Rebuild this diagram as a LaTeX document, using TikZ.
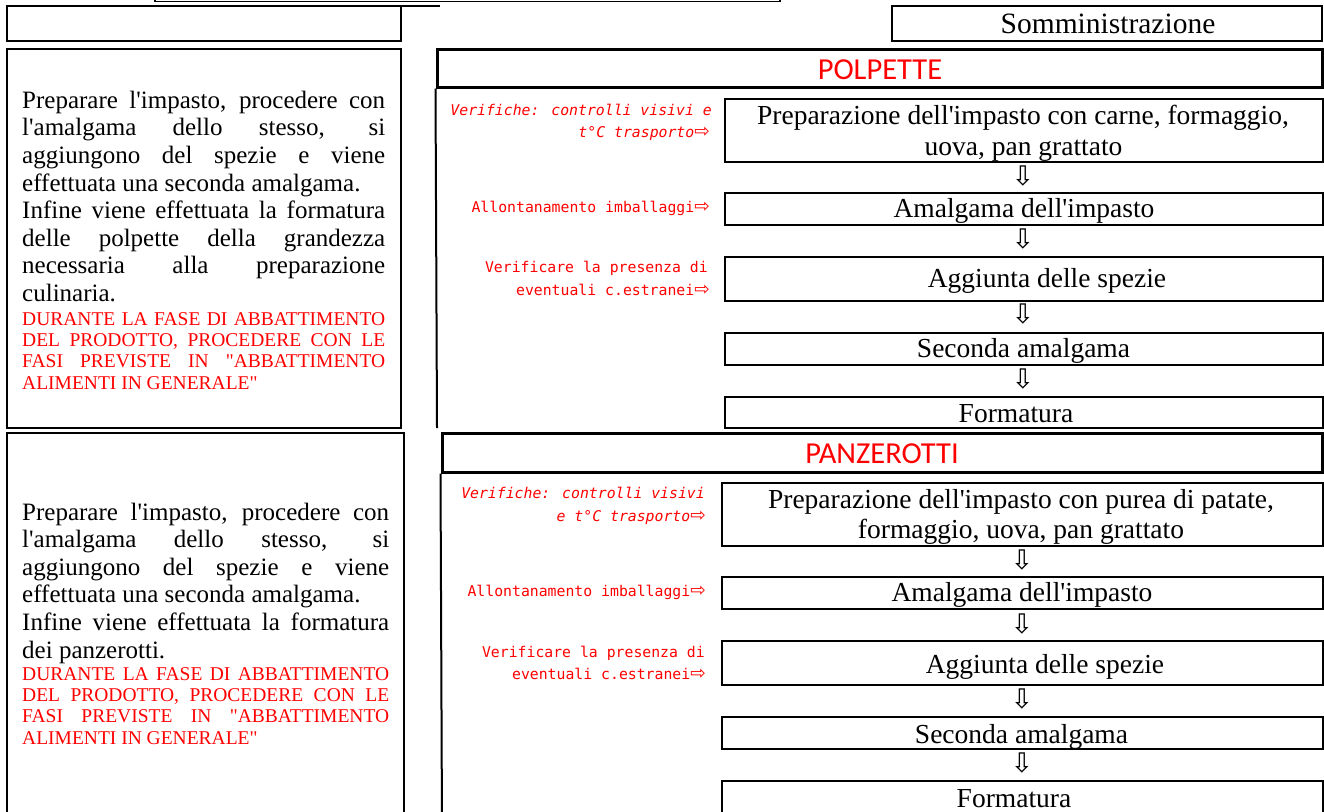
\documentclass[tikz,border=0pt]{standalone}
\usepackage{fontspec}
\usetikzlibrary{fit}
\newfontfamily\serf{Liberation Serif}
\newfontfamily\monof{DejaVu Sans Mono}
\newfontfamily\arrf{DejaVu Sans}
\newfontfamily\titf{Carlito}
\definecolor{rd}{RGB}{255,0,0}
\tikzset{
 frame/.style={draw, line width=2.1pt, inner sep=0pt},
 tframe/.style={draw, line width=3pt, inner sep=0pt},
 steptxt/.style={inner sep=0pt, anchor=base, font=\serf\fontsize{27.5}{31}\selectfont},
 ttl/.style={inner sep=0pt, anchor=base, text=rd, font=\titf\fontsize{30.5}{34}\selectfont},
 note/.style={inner sep=0pt, anchor=base east, text=rd, font=\monof\fontsize{14.8}{17}\selectfont},
 inote/.style={note, font=\monof\itshape\fontsize{14.8}{17}\selectfont},
 darr/.style={inner sep=0pt, font=\arrf\fontsize{27}{30}\selectfont},
 para/.style={inner sep=0pt, anchor=base west},
 redpara/.style={para, text=rd},
}
\newcommand\ra{{\arrf\upshape\fontsize{18.5}{18}\selectfont ⇨}}
\newcommand\blkp[2]{\vtop{\hsize=#1\serf\fontsize{25}{27.6}\selectfont\parindent=0pt\tolerance=10000\hbadness=10000 #2\par}}
\newcommand\redp[2]{\vtop{\hsize=#1\serf\fontsize{19.5}{21.4}\selectfont\parindent=0pt\tolerance=10000\hbadness=10000 #2\par}}

\begin{document}
\begin{tikzpicture}[x=1pt,y=-1pt]
\useasboundingbox (0,0) rectangle (1324,811);

% top remnants
\draw[line width=1.8pt] (155,-10) rectangle (780,1.5);
\node[frame, fit={(7,6)(401,41)}] (boxa) {};
\draw[line width=2.1pt] (401,6) -- (440,6);
\node[frame, fit={(892,6)(1322,41)}] (somm) {};
\node[inner sep=0pt, anchor=base, font=\serf\fontsize{29.5}{33}\selectfont] (sommtxt) at (1108,33) {Somministrazione};

% left description boxes
\node[frame, fit={(7,49)(401,428)}] (boxb) {};
\node[para] (bblk) at (22,108.3) {\blkp{363pt}{Preparare l'impasto, procedere con\linebreak l'amalgama dello stesso, si\linebreak aggiungono del spezie e viene\linebreak effettuata una seconda amalgama.\par Infine viene effettuata la formatura\linebreak delle polpette della grandezza\linebreak necessaria alla preparazione\linebreak culinaria.}};
\node[redpara] (bred) at (22,325) {\redp{363pt}{DURANTE LA FASE DI ABBATTIMENTO\linebreak DEL PRODOTTO, PROCEDERE CON LE\linebreak FASI PREVISTE IN "ABBATTIMENTO\linebreak ALIMENTI IN GENERALE"}};

\node[frame, fit={(7,433)(404,830)}] (boxc) {};
\node[para] (cblk) at (22,520) {\blkp{367pt}{Preparare l'impasto, procedere con\linebreak l'amalgama dello stesso, si\linebreak aggiungono del spezie e viene\linebreak effettuata una seconda amalgama.\par Infine viene effettuata la formatura\linebreak dei panzerotti.}};
\node[redpara] (cred) at (22,680) {\redp{367pt}{DURANTE LA FASE DI ABBATTIMENTO\linebreak DEL PRODOTTO, PROCEDERE CON LE\linebreak FASI PREVISTE IN "ABBATTIMENTO\linebreak ALIMENTI IN GENERALE"}};

% POLPETTE section
\node[tframe, fit={(437,49)(1322,87)}] (t1) {};
\node[ttl] (t1txt) at (880,79) {POLPETTE};
\draw[line width=2pt] (t1.south west) -- (437,428);

\node[frame, fit={(725,99)(1323,162)}] (p1) {};
\node[steptxt] (p1a) at (1023,124) {Preparazione dell'impasto con carne, formaggio,};
\node[steptxt] (p1b) at (1023.5,155.5) {uova, pan grattato};
\node[frame, fit={(725,193)(1323,225)}] (p2) {};
\node[steptxt] (p2t) at (1024,217) {Amalgama dell'impasto};
\node[frame, fit={(725,257)(1323,301)}] (p3) {};
\node[steptxt] (p3t) at (1047,287) {Aggiunta delle spezie};
\node[frame, fit={(725,333)(1323,365)}] (p4) {};
\node[steptxt] (p4t) at (1023.5,357) {Seconda amalgama};
\node[frame, fit={(725,397)(1323,428)}] (p5) {};
\node[steptxt] (p5t) at (1016,422) {Formatura};

\node[darr] (pa1) at (1023,176) {⇩};
\node[darr] (pa2) at (1023,239) {⇩};
\node[darr] (pa3) at (1023,314) {⇩};
\node[darr] (pa4) at (1023,379) {⇩};

\node[inote] (pn1a) at (712,115) {Verifiche: controlli visivi e};
\node[inote] (pn1b) at (710,137) {t°C trasporto\ra};
\node[note] (pn2) at (710,212) {Allontanamento imballaggi\ra};
\node[note] (pn3a) at (708,272) {Verificare la presenza di};
\node[note] (pn3b) at (710,295) {eventuali c.estranei\ra};

% PANZEROTTI section
\node[tframe, fit={(442,433)(1322,472)}] (t2) {};
\node[ttl] (t2txt) at (882,463) {PANZEROTTI};
\draw[line width=2pt] (t2.south west) -- (442,830);

\node[frame, fit={(722,483)(1323,546)}] (q1) {};
\node[steptxt] (q1a) at (1021,508) {Preparazione dell'impasto con purea di patate,};
\node[steptxt] (q1b) at (1021,538) {formaggio, uova, pan grattato};
\node[frame, fit={(722,577)(1323,609)}] (q2) {};
\node[steptxt] (q2t) at (1022,601) {Amalgama dell'impasto};
\node[frame, fit={(722,641)(1323,685)}] (q3) {};
\node[steptxt] (q3t) at (1045,673) {Aggiunta delle spezie};
\node[frame, fit={(722,717)(1323,749)}] (q4) {};
\node[steptxt] (q4t) at (1021.5,743) {Seconda amalgama};
\node[frame, fit={(722,781)(1323,830)}] (q5) {};
\node[steptxt] (q5t) at (1014,807) {Formatura};

\node[darr] (qa1) at (1022,560) {⇩};
\node[darr] (qa2) at (1022,624) {⇩};
\node[darr] (qa3) at (1022,699) {⇩};
\node[darr] (qa4) at (1022,763) {⇩};

\node[inote] (qn1a) at (705,498) {Verifiche: controlli visivi};
\node[inote] (qn1b) at (706,521) {e t°C trasporto\ra};
\node[note] (qn2) at (706,596) {Allontanamento imballaggi\ra};
\node[note] (qn3a) at (705,657) {Verificare la presenza di};
\node[note] (qn3b) at (706,679) {eventuali c.estranei\ra};
\end{tikzpicture}
\end{document}
